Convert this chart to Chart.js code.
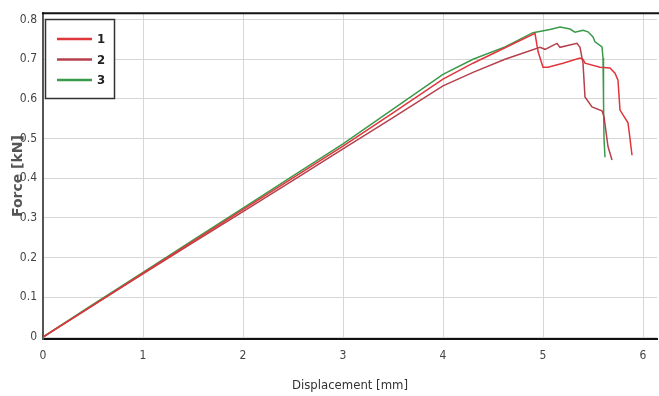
<!DOCTYPE html>
<html><head><meta charset="utf-8">
<script src="https://cdn.jsdelivr.net/npm/chart.js@4/dist/chart.umd.min.js"></script>
<style>html,body{margin:0;padding:0;background:#fff;}</style>
</head><body>
<canvas id="c" width="659" height="396"></canvas>
<script>
// ---- data ----
const seriesLabels = ['1', '2', '3'];
const s1x = [0, 0.5, 1, 1.5, 2, 2.5, 3, 3.5, 4, 4.3, 4.62, 4.92, 4.95, 5.0, 5.05, 5.2, 5.37, 5.40, 5.42, 5.57, 5.67, 5.72, 5.75, 5.77, 5.85, 5.87, 5.89];
const s1y = [0, 0.080, 0.161, 0.241, 0.321, 0.401, 0.481, 0.565, 0.650, 0.690, 0.729, 0.765, 0.72, 0.680, 0.680, 0.690, 0.703, 0.700, 0.690, 0.680, 0.678, 0.665, 0.647, 0.572, 0.540, 0.500, 0.458];
const s2x = [0, 0.5, 1, 1.5, 2, 2.5, 3, 3.5, 4, 4.3, 4.62, 4.97, 5.02, 5.14, 5.17, 5.34, 5.37, 5.40, 5.42, 5.49, 5.59, 5.61, 5.65, 5.69];
const s2y = [0, 0.080, 0.159, 0.238, 0.316, 0.395, 0.474, 0.553, 0.633, 0.667, 0.700, 0.730, 0.725, 0.740, 0.730, 0.740, 0.730, 0.690, 0.605, 0.580, 0.570, 0.555, 0.480, 0.446];
const s3x = [0, 0.5, 1, 1.5, 2, 2.5, 3, 3.5, 4, 4.3, 4.62, 4.90, 5.07, 5.17, 5.27, 5.32, 5.40, 5.45, 5.50, 5.52, 5.59, 5.60, 5.605, 5.61, 5.62];
const s3y = [0, 0.082, 0.163, 0.244, 0.325, 0.406, 0.487, 0.574, 0.662, 0.700, 0.731, 0.767, 0.775, 0.781, 0.776, 0.768, 0.773, 0.769, 0.756, 0.744, 0.731, 0.703, 0.600, 0.500, 0.453];
const xTicks = [0, 1, 2, 3, 4, 5, 6];
const yTicks = [0, 0.1, 0.2, 0.3, 0.4, 0.5, 0.6, 0.7, 0.8];
const yTickLabels = ['0', '0.1', '0.2', '0.3', '0.4', '0.5', '0.6', '0.7', '0.8'];
const xTitle = 'Displacement [mm]';
const yTitle = 'Force [kN]';
const colors = ['#e0353b', '#b5404c', '#3b9a4a'];

const NARROW = "'Liberation Sans Narrow','DejaVu Sans Condensed','Liberation Sans',sans-serif";
const pts = (xs, ys) => xs.map((x, i) => ({x: x, y: ys[i]}));
const seriesX = [s1x, s2x, s3x], seriesY = [s1y, s2y, s3y];

const frame = {
  id: 'frame',
  afterDatasetsDraw(chart) {
    const {ctx, chartArea: a} = chart;
    ctx.save();
    ctx.strokeStyle = '#111';
    ctx.lineWidth = 2;
    ctx.beginPath();
    ctx.moveTo(a.left - 1, a.top);
    ctx.lineTo(chart.width, a.top);
    ctx.stroke();
    // legend box
    const bx = 45.5, by = 19.5, bw = 69, bh = 79;
    ctx.fillStyle = '#fff';
    ctx.fillRect(bx, by, bw, bh);
    ctx.strokeStyle = '#333';
    ctx.lineWidth = 1.5;
    ctx.strokeRect(bx, by, bw, bh);
    chart.data.datasets.forEach((ds, i) => {
      const y = 39 + i * 20.5;
      ctx.strokeStyle = ds.borderColor;
      ctx.lineWidth = 2.5;
      ctx.beginPath();
      ctx.moveTo(57, y);
      ctx.lineTo(92, y);
      ctx.stroke();
      ctx.fillStyle = '#222';
      ctx.font = "bold 13px " + NARROW;
      ctx.textBaseline = 'middle';
      ctx.fillText(ds.label, 97, y + 1);
    });
    ctx.restore();
  }
};

new Chart(document.getElementById('c'), {
  type: 'line',
  data: {
    datasets: seriesLabels.map((lab, i) => ({
      label: lab,
      data: pts(seriesX[i], seriesY[i]),
      borderColor: colors[i],
      backgroundColor: colors[i],
      borderWidth: 1.5,
      pointRadius: 0,
      tension: 0,
      fill: false
    }))
  },
  options: {
    responsive: false,
    devicePixelRatio: 1,
    animation: false,
    layout: {padding: {top: 13, right: 2, left: 0, bottom: 0}},
    plugins: {legend: {display: false}, tooltip: {enabled: false}},
    scales: {
      x: {
        type: 'linear', min: 0, max: 6.14,
        afterBuildTicks: s => { s.ticks = xTicks.map(v => ({value: v})); },
        afterFit: s => { s.height = 57; },
        grid: {color: '#d6d6d6', lineWidth: 1, drawTicks: false},
        border: {display: true, color: '#111', width: 2},
        ticks: {padding: 10, color: '#444', font: {family: NARROW, size: 12}, maxRotation: 0},
        title: {display: true, text: xTitle, color: '#333', font: {family: NARROW, size: 13}, padding: {top: 0, bottom: 3}}
      },
      y: {
        type: 'linear', min: -0.005, max: 0.816,
        afterBuildTicks: s => { s.ticks = yTicks.map(v => ({value: v})); },
        afterFit: s => { s.width = 43; },
        grid: {color: '#d6d6d6', lineWidth: 1, drawTicks: false},
        border: {display: true, color: '#555', width: 2},
        ticks: {padding: 6, color: '#444', font: {family: NARROW, size: 12},
          callback: (v, i) => yTickLabels[i]},
        title: {display: true, text: yTitle, color: '#555', font: {family: 'DejaVu Sans', size: 14, weight: 'bold'}, padding: {top: 10, bottom: 0}}
      }
    }
  },
  plugins: [frame]
});
</script>
</body></html>
